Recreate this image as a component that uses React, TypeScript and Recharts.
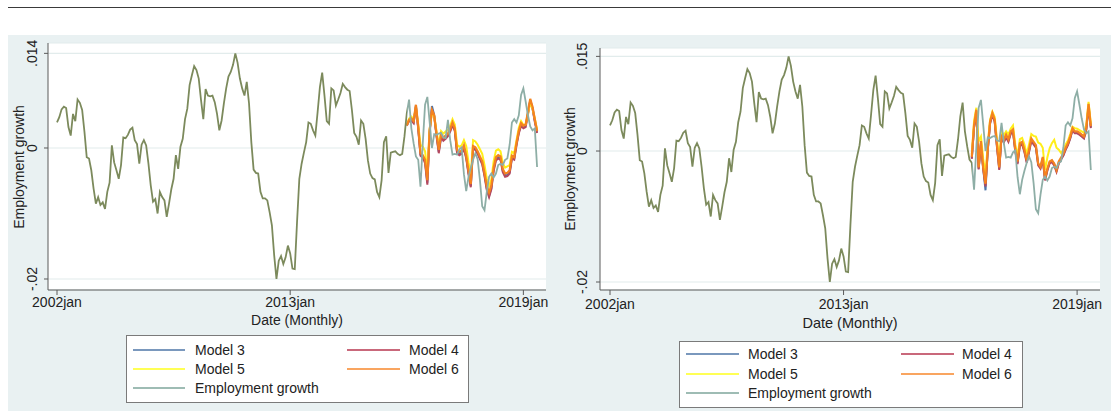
import React from 'react';
import { LineChart, Line, XAxis, YAxis, CartesianGrid } from 'recharts';

// ---------------- DATA (values in thousandths, i.e. 1.0 = .001) ----------------
const employmentGrowth = [
  3.9, 4.7, 5.9, 6.3, 6.1, 3.2, 1.9, 5.2, 4.1, 7.4,
  6.9, 5.8, 2.5, -1.4, -1.6, -3.4, -6.2, -8.5, -7.5, -8.7,
  -8.3, -9.3, -6.7, -5.3, 0.4, -2.2, -3.4, -4.7, -2.6, 1.6,
  1.5, 2.0, 2.8, 3.1, 1.2, 0.6, -2.4, 0.5, 1.2, 0.4,
  -2.4, -5.7, -8.2, -7.8, -10.0, -6.7, -7.5, -8.0, -10.5, -8.5,
  -6.3, -4.7, -1.1, -3.2, 0.2, 1.4, 4.4, 6.0, 9.6, 11.1,
  12.5, 11.9, 10.6, 7.3, 4.4, 9.0, 8.0, 7.9, 8.0, 7.0,
  5.2, 2.7, 4.2, 6.8, 9.1, 10.9, 11.6, 12.7, 14.45, 13.0,
  10.6, 9.1, 8.0, 10.1, 6.8, 0.9, -3.3, -3.8, -3.9, -6.7,
  -7.7, -7.7, -8.0, -9.8, -11.8, -16.4, -20.0, -17.2, -16.5, -17.7,
  -16.7, -14.9, -16.1, -18.4, -18.5, -11.3, -4.7, -2.4, -0.7, 0.9,
  3.9, 3.7, 2.7, 1.9, 5.5, 9.3, 11.5, 8.0, 4.1, 3.7,
  9.1, 8.8, 6.5, 7.4, 8.4, 9.8, 9.3, 8.9, 8.7, 5.8,
  2.3, 1.7, 0.5, 4.2, 3.7, 1.4, -1.9, -3.9, -4.6, -4.8,
  -6.7, -7.5, -4.9, 0.9, 1.8, -3.8, -0.7, -0.6, -0.5, -0.9,
  -1.1, -0.9, 1.8, 5.3, 7.4, 3.0, 0.7, -1.3, -1.8, -5.9,
  0.7, 6.6, 7.8, 4.0, 0.0, 2.1, 2.0, 2.2, 2.3, 1.6,
  1.5, 4.3, 1.2, -1.0, -0.9, -1.0, -0.2, 0.1, -4.0, -6.6,
  -4.4, -3.0, -1.8, -0.8, -1.7, -4.9, -8.9, -9.5, -6.7, -4.4,
  -3.9, -4.5, -3.9, -2.6, -2.4, -2.6, -1.8, -1.6, 0.5, 3.9,
  4.4, 3.9, 5.0, 8.1, 9.1, 7.1, 5.0, 3.3, 2.7, 3.0,
  -2.9,
];

// Left panel forecasts (start at month index 153)
const leftForecastStart = 153;
const leftModel3 = [
  3.5, 4.2, 4.3, 3.9, 6.5, 3.1, -1.0, -1.3, -2.0, -5.3,
  2.5, 6.4, 5.0, 2.0, -0.6, 1.8, 1.3, 1.6, 2.0, 2.7,
  3.7, 2.8, -0.6, -0.9, -0.7, 0.1, -1.4, -3.8, -5.8, 0.1,
  -0.1, -0.7, -1.5, -2.3, -4.1, -6.2, -7.3, -6.1, -3.3, -1.7,
  -1.4, -1.6, -3.5, -4.2, -4.1, -3.7, -1.4, -1.6, 0.6, 2.4,
  3.6, 3.2, 3.4, 5.3, 7.3, 6.1, 4.2, 2.5,
];
const leftModel4 = [
  3.4, 4.1, 4.2, 3.8, 6.3, 2.9, -1.2, -1.5, -2.3, -5.6,
  2.3, 5.9, 4.8, 1.8, -0.8, 1.6, 1.1, 1.4, 1.8, 2.5,
  3.5, 2.6, -0.8, -1.1, -0.9, -0.1, -1.6, -4.0, -6.0, -0.1,
  -0.3, -0.9, -1.7, -2.5, -4.3, -6.4, -7.5, -6.3, -3.5, -1.9,
  -1.6, -1.8, -3.7, -4.4, -4.3, -3.9, -1.6, -1.8, 0.4, 2.2,
  3.4, 3.0, 3.2, 5.1, 7.2, 6.0, 4.0, 2.3,
];
const leftModel5 = [
  3.5, 4.5, 4.8, 4.4, 6.2, 3.6, 0.5, 0.2, -0.5, -3.6,
  2.9, 5.4, 4.8, 2.6, 0.4, 2.6, 2.2, 2.5, 2.8, 3.4,
  4.4, 3.6, 0.5, 0.2, 0.4, 1.2, 0.3, -2.2, -4.2, 1.2,
  1.0, 0.5, -0.2, -0.9, -2.6, -4.7, -5.8, -4.8, -2.0, -0.4,
  -0.2, -0.5, -2.3, -3.0, -2.8, -2.6, -0.6, -0.8, 1.2, 3.1,
  4.1, 3.5, 3.6, 5.2, 7.0, 6.0, 4.5, 2.8,
];
const leftModel6 = [
  3.5, 4.3, 4.5, 4.1, 6.6, 3.3, -0.8, -1.1, -1.8, -4.9,
  2.7, 5.8, 5.0, 2.2, -0.3, 2.1, 1.6, 1.9, 2.2, 2.9,
  3.9, 3.0, -0.3, -0.6, -0.4, 0.4, -1.2, -3.5, -5.5, 0.3,
  0.1, -0.5, -1.3, -2.0, -3.8, -5.8, -6.8, -5.7, -3.0, -1.4,
  -1.1, -1.3, -3.2, -3.9, -3.8, -3.4, -1.2, -1.4, 0.8, 2.6,
  3.8, 3.4, 3.6, 5.5, 7.5, 6.3, 4.4, 2.6,
];

// Right panel forecasts (start at month index 158)
const rightForecastStart = 158;
const rightModel3 = [
  -1.1, 3.7, 6.1, -2.7, 1.2, -2.7, -6.0, 0.3, 4.3, 5.6,
  4.6, 0.8, -2.7, 2.3, 1.5, 2.3, 1.6, 2.8, 3.1, 0.1,
  -1.8, 1.0, 1.2, 0.0, -1.6, 0.0, 1.7, 1.2, 0.7, -2.0,
  -2.5, -1.1, -4.4, -2.9, -1.8, -1.5, -2.0, -3.0, -1.8, -1.2,
  -0.6, 0.3, 1.0, 2.0, 3.3, 2.8, 2.8, 2.6, 2.3, 2.0,
  3.3, 6.9, 3.6,
];
const rightModel4 = [
  -1.2, 3.6, 6.0, -2.8, 1.0, -2.8, -5.4, 0.2, 4.2, 5.5,
  4.5, 0.6, -2.9, 2.1, 1.3, 2.1, 1.4, 2.6, 2.9, -0.1,
  -2.0, 0.8, 1.0, -0.2, -1.8, -0.2, 1.5, 1.0, 0.5, -2.2,
  -2.7, -1.3, -4.5, -3.0, -1.9, -1.7, -2.2, -3.2, -1.9, -1.3,
  -0.7, 0.2, 0.9, 1.9, 3.2, 2.7, 2.7, 2.5, 2.2, 1.9,
  3.2, 6.8, 3.5,
];
const rightModel5 = [
  -0.5, 4.6, 6.6, 1.5, 2.2, -1.2, -3.5, 1.2, 4.8, 6.0,
  5.2, 1.8, -1.2, 3.0, 2.4, 3.0, 2.5, 3.4, 3.9, 1.0,
  -0.8, 1.8, 2.0, 1.0, -0.5, 1.0, 2.6, 2.3, 2.2, 1.3,
  1.1, 0.5, -2.9, -1.0, 0.4, 1.2, 1.7, 0.5, 0.2, -0.3,
  0.2, 1.0, 1.6, 2.6, 3.7, 3.5, 3.4, 3.2, 3.0, 2.8,
  4.0, 7.5, 4.2,
];
const rightModel6 = [
  -0.9, 4.0, 6.3, -2.5, 1.5, -2.5, -5.0, 0.5, 4.5, 5.8,
  4.8, 1.0, -2.5, 2.5, 1.7, 2.5, 1.8, 3.0, 3.3, 0.3,
  -1.6, 1.2, 1.4, 0.2, -1.4, 0.2, 1.9, 1.4, 0.9, -1.9,
  -2.4, -0.9, -4.2, -2.7, -1.6, -1.4, -1.9, -2.9, -1.6, -1.0,
  -0.4, 0.5, 1.2, 2.2, 3.5, 3.0, 3.0, 2.8, 2.5, 2.2,
  3.5, 7.2, 3.8,
];

const xTickValues = [0, 102, 204];
const xTickLabels = ['2002jan', '2013jan', '2019jan'];
const leftYTickLabels = ['-.02', '0', '.014'];
const rightYTickLabels = ['-.02', '0', '.015'];
const seriesNames = ['Model 3', 'Model 4', 'Model 5', 'Model 6', 'Employment growth'];
const xAxisTitle = 'Date (Monthly)';
const yAxisTitle = 'Employment growth';

// ---------------- STYLE ----------------
const FONT = '"Liberation Sans", Arial, Helvetica, sans-serif';
const COLORS = {
  m3: '#4d74a8',
  m4: '#b5485f',
  m5: '#ffee1a',
  m6: '#f5821f',
  emp: '#8eaea6',
  hist: '#7c8a5c',
};
const LEGEND_COLORS = ['#7a98bd', '#c9687b', '#ffff55', '#f9a560', '#9ebcb4'];
const TEXT = '#222222';
const AXIS = '#5a5a5a';

function buildRows(start: number, m3: number[], m4: number[], m5: number[], m6: number[]) {
  return employmentGrowth.map((v, i) => {
    const k = i - start;
    const pick = (arr: number[]) => (k >= 0 && k < arr.length ? arr[k] / 1000 : null);
    return { t: i, emp: v / 1000, m3: pick(m3), m4: pick(m4), m5: pick(m5), m6: pick(m6) };
  });
}

type PanelCfg = {
  left: number;
  width: number;
  margin: { top: number; right: number; bottom: number; left: number };
  xDomain: [number, number];
  yDomain: [number, number];
  start: number;
  models: number[][];
  yLabels: string[];
  gid: string;
  xLabelBaseline: number;
  yLabelBaseline: number;
};

function Panel({ cfg }: { cfg: PanelCfg }) {
  const rows = buildRows(cfg.start, cfg.models[0], cfg.models[1], cfg.models[2], cfg.models[3]);
  const yMin = Math.min(...employmentGrowth) / 1000;
  const yMax = Math.max(...employmentGrowth) / 1000;
  const yTicks = [yMin, 0, yMax];
  const split = cfg.start / (employmentGrowth.length - 1);

  const XTick = (props: any) => {
    const { x, payload } = props;
    const idx = xTickValues.indexOf(payload.value);
    return (
      <text x={x} y={cfg.xLabelBaseline} textAnchor="middle" fontSize={14} fontFamily={FONT} fill={TEXT}>
        {xTickLabels[idx]}
      </text>
    );
  };
  const YTick = (props: any) => {
    const { y, payload } = props;
    const idx = yTicks.indexOf(payload.value);
    const bx = cfg.yLabelBaseline;
    return (
      <text
        x={bx}
        y={y}
        transform={`rotate(-90, ${bx}, ${y})`}
        textAnchor="middle"
        fontSize={14}
        fontFamily={FONT}
        fill={TEXT}
      >
        {cfg.yLabels[idx]}
      </text>
    );
  };

  return (
    <div style={{ position: 'absolute', left: cfg.left, top: 0 }}>
      <LineChart width={cfg.width} height={411} data={rows} margin={cfg.margin}>
        <defs>
          <linearGradient id={cfg.gid} x1="0" y1="0" x2="1" y2="0">
            <stop offset={split} stopColor={COLORS.hist} />
            <stop offset={split} stopColor={COLORS.emp} />
          </linearGradient>
        </defs>
        <CartesianGrid vertical={false} stroke="#e2ecec" strokeWidth={1.2} fill="#ffffff" />
        <XAxis
          dataKey="t"
          type="number"
          domain={cfg.xDomain}
          allowDataOverflow
          ticks={xTickValues}
          interval={0}
          height={30}
          tickSize={5}
          stroke={AXIS}
          tick={XTick}
        />
        <YAxis
          type="number"
          domain={cfg.yDomain}
          allowDataOverflow
          ticks={yTicks}
          interval={0}
          width={40}
          tickSize={4}
          stroke={AXIS}
          tick={YTick}
        />
        <Line dataKey="m3" type="linear" stroke={COLORS.m3} strokeWidth={2} dot={false} activeDot={false} isAnimationActive={false} />
        <Line dataKey="m4" type="linear" stroke={COLORS.m4} strokeWidth={2} dot={false} activeDot={false} isAnimationActive={false} />
        <Line dataKey="m5" type="linear" stroke={COLORS.m5} strokeWidth={2} dot={false} activeDot={false} isAnimationActive={false} />
        <Line dataKey="m6" type="linear" stroke={COLORS.m6} strokeWidth={2.2} dot={false} activeDot={false} isAnimationActive={false} />
        <Line dataKey="emp" type="linear" stroke={`url(#${cfg.gid})`} strokeWidth={1.8} dot={false} activeDot={false} isAnimationActive={false} />
      </LineChart>
    </div>
  );
}

function LegendBox({ x, y, w, h, rows, lineX1, lineX2, textX }: any) {
  const rowY = rows as number[];
  const items = [
    { name: seriesNames[0], color: LEGEND_COLORS[0], col: 0, row: 0 },
    { name: seriesNames[1], color: LEGEND_COLORS[1], col: 1, row: 0 },
    { name: seriesNames[2], color: LEGEND_COLORS[2], col: 0, row: 1 },
    { name: seriesNames[3], color: LEGEND_COLORS[3], col: 1, row: 1 },
    { name: seriesNames[4], color: LEGEND_COLORS[4], col: 0, row: 2 },
  ];
  return (
    <g>
      <rect x={x + 0.5} y={y + 0.5} width={w} height={h} fill="#ffffff" stroke="#7a7a7a" strokeWidth={1} />
      {items.map((it) => (
        <g key={it.name}>
          <line x1={lineX1[it.col]} x2={lineX2[it.col]} y1={rowY[it.row]} y2={rowY[it.row]} stroke={it.color} strokeWidth={2} />
          <text x={textX[it.col]} y={rowY[it.row] + 5} fontSize={14} fontFamily={FONT} fill={TEXT}>
            {it.name}
          </text>
        </g>
      ))}
    </g>
  );
}

export default function App() {
  const leftCfg: PanelCfg = {
    left: 0,
    width: 555,
    margin: { top: 43, right: 9, bottom: 91, left: 8 },
    xDomain: [-3.94, 213.9],
    yDomain: [-0.02168, 0.01603],
    start: leftForecastStart,
    models: [leftModel3, leftModel4, leftModel5, leftModel6],
    yLabels: leftYTickLabels,
    gid: 'empGradLeft',
    xLabelBaseline: 307,
    yLabelBaseline: 37,
  };
  const rightCfg: PanelCfg = {
    left: 550,
    width: 561,
    margin: { top: 48, right: 11, bottom: 91, left: 10 },
    xDomain: [-4.37, 214.0],
    yDomain: [-0.02122, 0.01573],
    start: rightForecastStart,
    models: [rightModel3, rightModel4, rightModel5, rightModel6],
    yLabels: rightYTickLabels,
    gid: 'empGradRight',
    xLabelBaseline: 309,
    yLabelBaseline: 37.5,
  };

  return (
    <div style={{ position: 'absolute', left: 0, top: 0, width: 1111, height: 411, background: '#ffffff', overflow: 'hidden' }}>
      <div style={{ position: 'absolute', left: 8, top: 35, width: 1103, height: 376, background: '#e9f1f2' }} />
      <Panel cfg={leftCfg} />
      <Panel cfg={rightCfg} />
      <svg width={1111} height={411} style={{ position: 'absolute', left: 0, top: 0, pointerEvents: 'none' }}>
        <line x1={8} y1={7.5} x2={1111} y2={7.5} stroke="#3a3a3a" strokeWidth={1.2} />
        <text x={24} y={167} transform="rotate(-90, 24, 167)" textAnchor="middle" fontSize={14} fontFamily={FONT} fill={TEXT}>
          {yAxisTitle}
        </text>
        <text x={575} y={169} transform="rotate(-90, 575, 169)" textAnchor="middle" fontSize={14} fontFamily={FONT} fill={TEXT}>
          {yAxisTitle}
        </text>
        <text x={297} y={325} textAnchor="middle" fontSize={14} fontFamily={FONT} fill={TEXT}>
          {xAxisTitle}
        </text>
        <text x={850} y={328} textAnchor="middle" fontSize={14.5} fontFamily={FONT} fill={TEXT}>
          {xAxisTitle}
        </text>
        <LegendBox x={126} y={335} w={342} h={67} rows={[350, 369, 388]} lineX1={[133, 347]} lineX2={[185, 400]} textX={[195, 409]} />
        <LegendBox x={679} y={341} w={343} h={66} rows={[354, 374, 393]} lineX1={[686, 901]} lineX2={[739, 954]} textX={[748, 962]} />
      </svg>
    </div>
  );
}
